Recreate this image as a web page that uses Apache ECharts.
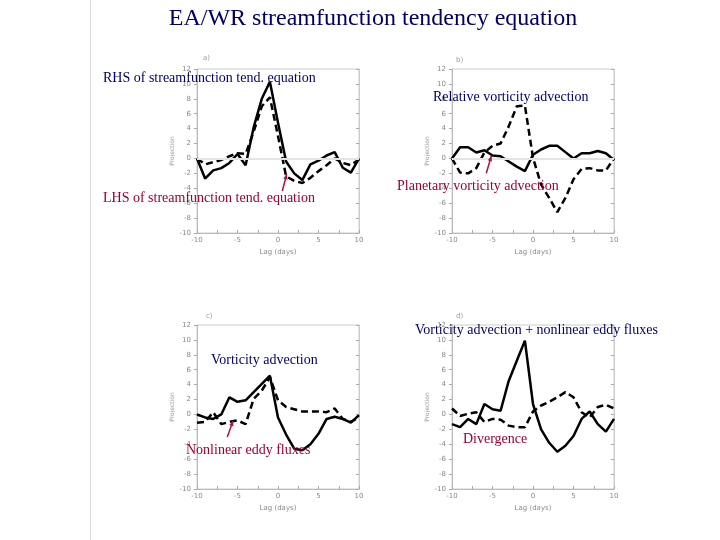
<!DOCTYPE html>
<html>
<head>
<meta charset="utf-8">
<script src="https://cdn.jsdelivr.net/npm/echarts@6/dist/echarts.min.js"></script>
<style>html,body{margin:0;padding:0;background:#fff;}#main{width:720px;height:540px;}</style>
</head>
<body>
<div id="main"></div>
<script>
const lags = [-10,-9,-8,-7,-6,-5,-4,-3,-2,-1,0,1,2,3,4,5,6,7,8,9,10];

// panel a
const aRHS = [0.0,-2.7,-1.6,-1.3,-0.6,0.6,-0.9,4.2,8.0,10.3,4.8,-0.4,-2.0,-2.9,-0.8,-0.3,0.4,0.85,-1.25,-1.9,0.0];
const aLHS = [0.0,-0.8,-0.5,-0.2,0.3,0.7,0.6,3.6,7.0,8.2,3.0,-2.4,-3.0,-3.3,-2.6,-1.7,-0.9,0.0,-0.6,-0.9,-0.1];
// panel b
const bRel = [0.0,-1.9,-2.0,-1.3,0.8,1.7,2.0,4.3,7.0,7.1,0.1,-3.5,-5.3,-7.2,-5.3,-2.8,-1.4,-1.3,-1.6,-1.6,0.0];
const bPlan = [0.0,1.5,1.5,0.8,1.1,0.4,0.3,-0.4,-1.1,-1.7,0.5,1.2,1.7,1.7,0.85,0.0,0.7,0.7,1.0,0.7,-0.2];
// panel c
const cVort = [0.0,-0.4,-0.6,0.0,2.3,1.7,1.9,3.0,4.1,5.2,-0.4,-2.7,-4.6,-4.8,-4.0,-2.6,-0.6,-0.3,-0.6,-1.1,-0.1];
const cEddy = [-1.1,-1.0,0.3,-1.3,-1.0,-0.8,-1.3,2.1,3.2,5.0,1.9,1.0,0.7,0.4,0.4,0.4,0.3,0.8,-0.6,-1.0,-0.4];
// panel d
const dSum = [-1.3,-1.7,-0.6,-1.3,1.4,0.7,0.5,4.5,7.2,9.9,1.4,-2.0,-3.8,-5.0,-4.2,-2.9,-0.6,0.4,-1.3,-2.3,-0.6];
const dDiv = [0.8,-0.2,0.1,0.3,-1.0,-0.6,-0.7,-1.5,-1.7,-1.7,0.4,1.2,1.7,2.3,3.0,2.3,0.3,-0.4,1.0,1.3,0.8];

const panelLetters = ['a)','b)','c)','d)'];
const xName = 'Lag (days)';
const yName = 'Projection';

const NAVY = '#000066';
const RED = '#990033';
const SERIF = "'Liberation Serif','Times New Roman',serif";

const grids = [
  {left:197, top:69, width:162, height:164},
  {left:452, top:69, width:162, height:164},
  {left:197, top:325, width:162, height:164},
  {left:452, top:325, width:162, height:164}
];

function pairs(vals){ return lags.map((l,i)=>[l, vals[i]]); }

const xAxes = [], yAxes = [];
grids.forEach((g,i)=>{
  xAxes.push({
    type:'value', gridIndex:i, min:-10, max:10, interval:2.5,
    name:xName, nameLocation:'middle', nameGap:16,
    nameTextStyle:{fontSize:7, color:'#888', fontFamily:'DejaVu Sans'},
    axisLine:{onZero:false, lineStyle:{color:'#bbb'}},
    axisTick:{inside:true, length:3, lineStyle:{color:'#aaa'}},
    axisLabel:{fontSize:7, color:'#888', margin:4, fontFamily:'DejaVu Sans',
      formatter:v=> (v%5===0 ? String(v) : '')},
    splitLine:{show:false}
  });
  yAxes.push({
    type:'value', gridIndex:i, min:-10, max:12, interval:2,
    name:yName, nameLocation:'middle', nameGap:22, nameRotate:90,
    nameTextStyle:{fontSize:6, color:'#999', fontFamily:'DejaVu Sans'},
    axisLine:{show:true, onZero:false, lineStyle:{color:'#bbb'}},
    axisTick:{show:true, length:3, lineStyle:{color:'#aaa'}},
    axisLabel:{fontSize:7, color:'#888', margin:6, fontFamily:'DejaVu Sans'},
    splitLine:{show:false}
  });
  yAxes.push({
    type:'value', gridIndex:i, min:-10, max:12, interval:2, position:'right',
    axisLine:{show:true, onZero:false, lineStyle:{color:'#ccc'}},
    axisTick:{show:true, inside:true, length:3, lineStyle:{color:'#aaa'}},
    axisLabel:{show:false}, splitLine:{show:false}
  });
});

const zeroLine = {silent:true, symbol:'none', label:{show:false},
  lineStyle:{color:'#e3e3e3', width:2, type:'solid'}, data:[{yAxis:0}]};

function solid(i, vals, mark){
  const s = {type:'line', xAxisIndex:i, yAxisIndex:2*i, data:pairs(vals), symbol:'none',
    lineStyle:{color:'#000', width:2.5}, z:3, animation:false};
  if(mark) s.markLine = zeroLine;
  return s;
}
function dashed(i, vals){
  return {type:'line', xAxisIndex:i, yAxisIndex:2*i, data:pairs(vals), symbol:'none',
    lineStyle:{color:'#000', width:2.5, type:[7,4]}, z:3, animation:false};
}

function txt(t, x, y, color, size, align){
  return {type:'text', x:x, y:y, z:100, style:{text:t, fill:color,
    font:size+'px '+SERIF, textAlign:align||'left', textVerticalAlign:'middle',
    align:align||'left', verticalAlign:'middle'}};
}
function small(t, x, y){
  return {type:'text', x:x, y:y, z:100, style:{text:t, fill:'#999',
    font:'7px DejaVu Sans', textAlign:'left', textVerticalAlign:'middle',
    align:'left', verticalAlign:'middle'}};
}
function arrow(x1,y1,x2,y2){
  const dx=x2-x1, dy=y2-y1, L=Math.sqrt(dx*dx+dy*dy), ux=dx/L, uy=dy/L;
  const hx=x2-ux*5, hy=y2-uy*5, px=-uy*2.2, py=ux*2.2;
  return [
    {type:'line', z:100, shape:{x1:x1,y1:y1,x2:x2,y2:y2}, style:{stroke:'#b0103f', lineWidth:1.5}},
    {type:'polygon', z:100, shape:{points:[[x2,y2],[hx+px,hy+py],[hx-px,hy-py]]}, style:{fill:'#b0103f'}}
  ];
}

const option = {
  backgroundColor:'#fff',
  animation:false,
  grid: grids.map(g=>Object.assign({show:true, borderColor:'#ccc', borderWidth:1, backgroundColor:'transparent'}, g)),
  xAxis: xAxes,
  yAxis: yAxes,
  series: [
    solid(0, aRHS, true), dashed(0, aLHS),
    solid(1, bPlan, true), dashed(1, bRel),
    solid(2, cVort, false), dashed(2, cEddy),
    solid(3, dSum, false), dashed(3, dDiv)
  ],
  graphic: [
    {type:'line', shape:{x1:90.5,y1:0,x2:90.5,y2:540}, style:{stroke:'#d8d8d8', lineWidth:1}},
    txt('EA/WR streamfunction tendency equation', 373, 19, NAVY, 24, 'center'),
    small(panelLetters[0], 203, 58), small(panelLetters[1], 456, 60),
    small(panelLetters[2], 206, 316), small(panelLetters[3], 456, 316),
    txt('RHS of streamfunction tend. equation', 103, 78, NAVY, 14),
    txt('LHS of streamfunction tend. equation', 103, 198, RED, 14),
    txt('Relative vorticity advection', 433, 97, NAVY, 14),
    txt('Planetary vorticity advection', 397, 186, RED, 14),
    txt('Vorticity advection + nonlinear eddy fluxes', 415, 330, NAVY, 14),
    txt('Vorticity advection', 211, 360, NAVY, 14),
    txt('Nonlinear eddy fluxes', 186, 450, RED, 14),
    txt('Divergence', 463, 439, RED, 14)
  ].concat(arrow(282.3,191,286.7,174.3), arrow(486.3,173.3,491.3,156), arrow(227.3,437,233,421))
};

const chart = echarts.init(document.getElementById('main'), null, {renderer:'canvas'});
chart.setOption(option);
</script>
</body>
</html>
